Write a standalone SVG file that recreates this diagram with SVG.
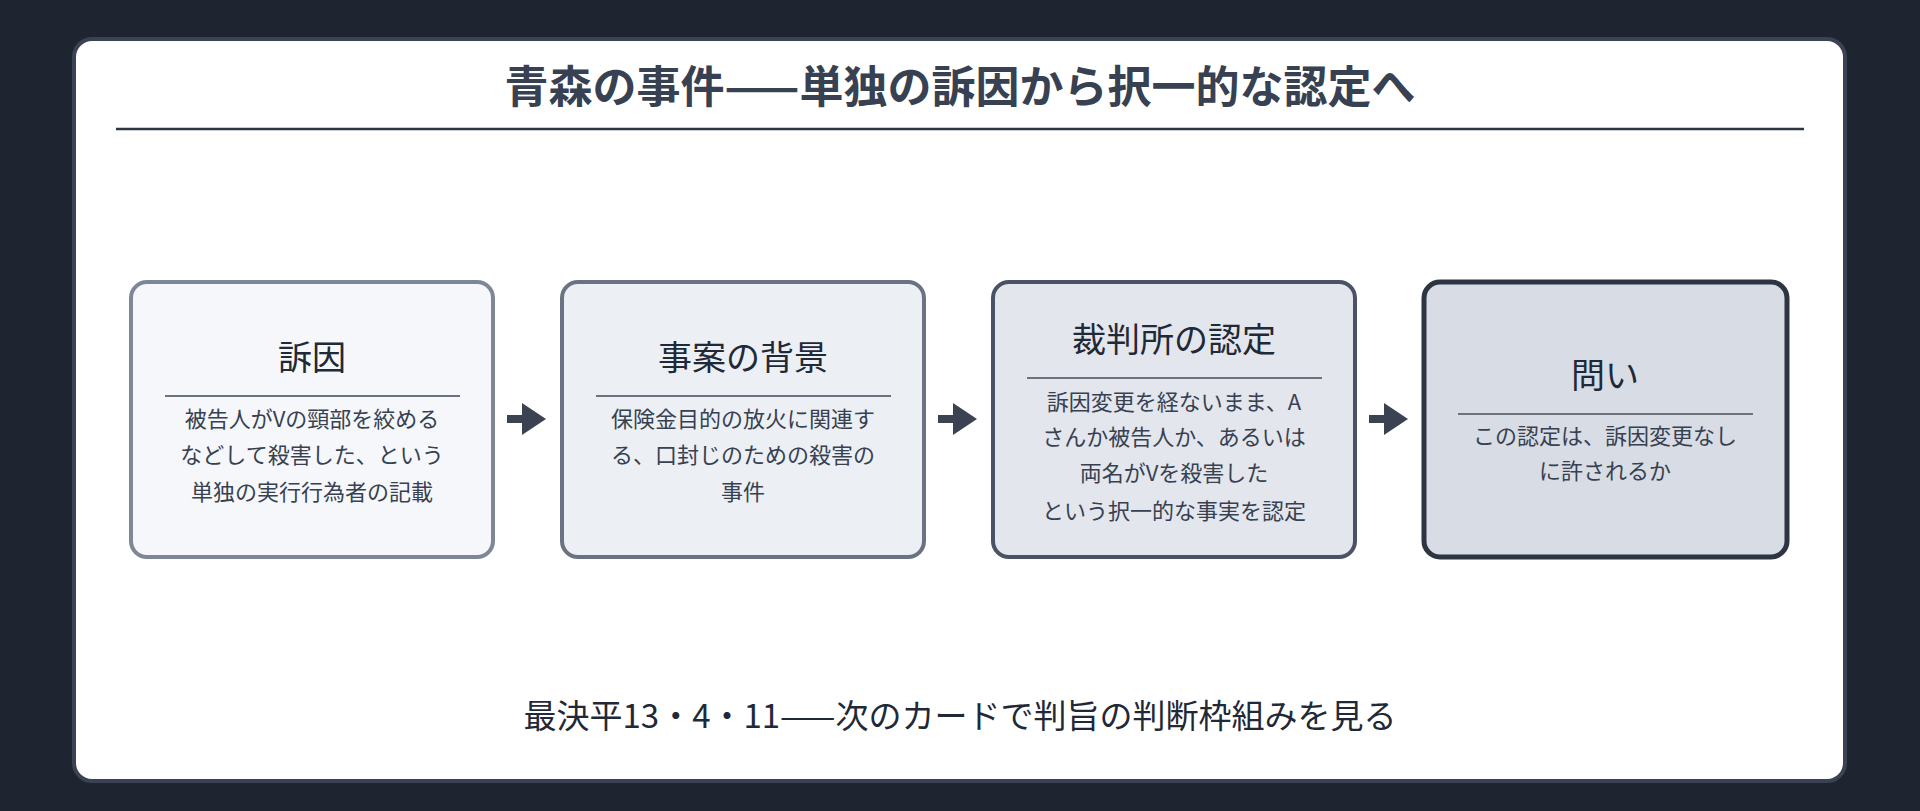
<svg xmlns="http://www.w3.org/2000/svg" width="1920" height="811" viewBox="0 0 1920 811">
<defs>
<style>
text{font-family:"Noto Sans CJK JP","Noto Sans",sans-serif;text-anchor:middle;fill:#1f2937}
.t{font-size:34px}
.b{font-size:22px;fill:#374151}
.dv{stroke:#6b7280;stroke-width:2}
</style>
<marker id="ah" markerWidth="4" markerHeight="4" refX="2" refY="2" orient="auto" markerUnits="strokeWidth"><path d="M0,0L3,2L0,4Z" fill="#3b4252"/></marker>
</defs>
<rect width="1920" height="811" fill="#1e2430"/>
<rect x="74" y="39" width="1771" height="742" rx="18" fill="#ffffff" stroke="#3a4253" stroke-width="4"/>
<text x="960" y="103" style="font-size:44px;font-weight:bold;fill:#374151">青森の事件——単独の訴因から択一的な認定へ</text>
<line x1="116" y1="129" x2="1804" y2="129" stroke="#2d3442" stroke-width="2.5"/>
<g id="n1">
<rect x="131" y="282" width="362" height="275" rx="16" fill="#f5f7fa" stroke="#7e8797" stroke-width="4"/>
<text class="t" x="312" y="370">訴因</text>
<line class="dv" x1="165" y1="396" x2="460" y2="396"/>
<text class="b" x="312" y="427">被告人がVの頸部を絞める</text>
<text class="b" x="312" y="463">などして殺害した、という</text>
<text class="b" x="312" y="500">単独の実行行為者の記載</text>
</g>
<g id="n2">
<rect x="562" y="282" width="362" height="275" rx="16" fill="#eceff3" stroke="#6b7383" stroke-width="4"/>
<text class="t" x="743" y="370">事案の背景</text>
<line class="dv" x1="596" y1="396" x2="891" y2="396"/>
<text class="b" x="743" y="427">保険金目的の放火に関連す</text>
<text class="b" x="743" y="463">る、口封じのための殺害の</text>
<text class="b" x="743" y="500">事件</text>
</g>
<g id="n3">
<rect x="993" y="282" width="362" height="275" rx="16" fill="#e3e6ec" stroke="#4a5263" stroke-width="4"/>
<text class="t" x="1174" y="352">裁判所の認定</text>
<line class="dv" x1="1027" y1="378" x2="1322" y2="378"/>
<text class="b" x="1174" y="410">訴因変更を経ないまま、A</text>
<text class="b" x="1174" y="445">さんか被告人か、あるいは</text>
<text class="b" x="1174" y="481">両名がVを殺害した</text>
<text class="b" x="1174" y="519">という択一的な事実を認定</text>
</g>
<g id="n4">
<rect x="1424" y="282" width="363" height="275" rx="16" fill="#d8dce4" stroke="#2d3442" stroke-width="5"/>
<text class="t" x="1605" y="388">問い</text>
<line class="dv" x1="1458" y1="414" x2="1753" y2="414"/>
<text class="b" x="1605" y="444">この認定は、訴因変更なし</text>
<text class="b" x="1605" y="479">に許されるか</text>
</g>
<g id="connectors" stroke="#3b4252" stroke-width="8" fill="none">
<line x1="507" y1="419" x2="538" y2="419" marker-end="url(#ah)"/>
<line x1="938" y1="419" x2="969" y2="419" marker-end="url(#ah)"/>
<line x1="1369" y1="419" x2="1400" y2="419" marker-end="url(#ah)"/>
</g>
<text x="960" y="728" style="font-size:33px;fill:#1f2937">最決平13・4・11——次のカードで判旨の判断枠組みを見る</text>
</svg>
